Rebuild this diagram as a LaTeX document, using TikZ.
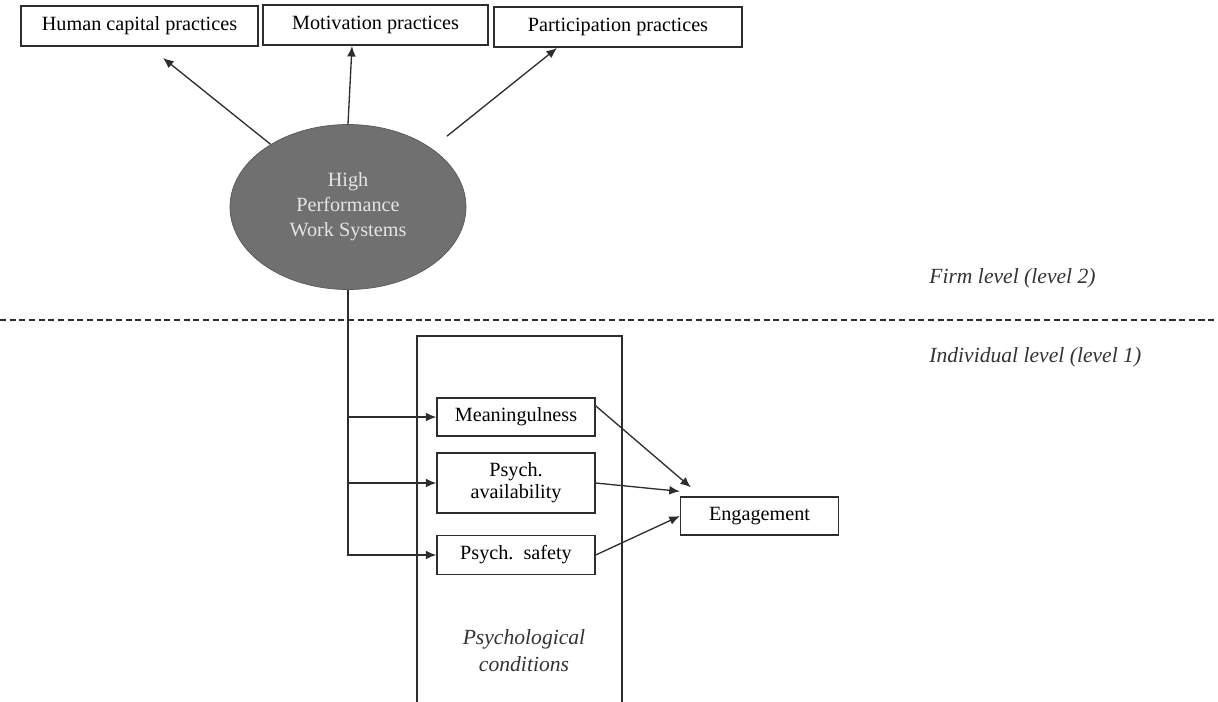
\documentclass[tikz,border=0pt]{standalone}
\usepackage{fontspec}
\setmainfont{Liberation Serif}
\usetikzlibrary{shapes.geometric,calc,arrows.meta}

\definecolor{hpwsgray}{RGB}{112,112,112}
\definecolor{linegray}{RGB}{45,45,45}

\tikzset{>={Latex[length=6pt,width=5pt]}}
\tikzset{
  practice/.style={draw=linegray, line width=0.75pt, minimum height=0.8cm, inner sep=0pt},
  cond/.style={draw=linegray, line width=0.75pt, minimum width=3.16cm, inner sep=0pt, align=center},
  link/.style={->, draw=linegray, line width=0.75pt},
  levellabel/.style={anchor=west, inner sep=0pt, font=\fontsize{12.3}{15.3}\selectfont\itshape, text=black!80},
}

\begin{document}
\begin{tikzpicture}[font=\fontsize{11.5}{14.2}\selectfont]
\useasboundingbox (0,0) rectangle (24.36,-14.02);

% Firm level
\node[practice, minimum width=4.74cm] (human) at (2.79,-0.52) {Human capital practices};
\node[practice, minimum width=4.5cm] (motiv) at (7.51,-0.5) {Motivation practices};
\node[practice, minimum width=4.96cm] (partic) at (12.36,-0.54) {Participation practices};

\node[ellipse, fill=hpwsgray, draw=hpwsgray!80!black, minimum width=4.72cm,
  minimum height=3.3cm, inner sep=0pt, text=white!90!black, align=center]
  (hpws) at (6.96,-4.14) {High\\Performance\\Work Systems};

\coordinate (humanend) at (3.26,-1.16);
\coordinate (motivend) at (7.04,-0.92);
\coordinate (particend) at (11.14,-0.96);

\draw[link] (hpws.141) -- (humanend);
\draw[link] (hpws.north) -- (motivend);
\draw[link, shorten <=0.39cm] (hpws.35) -- (particend);

\node[levellabel] (firm) at (18.58,-5.56) {Firm level (level 2)};

% level separator
\draw[draw=linegray, dash pattern=on 3.5pt off 2pt, line width=0.75pt] (0,-6.4) -- (24.36,-6.4);

% Individual level
\node[levellabel] (indiv) at (18.58,-7.14) {Individual level (level 1)};

\draw[draw=linegray, line width=0.75pt] (8.34,-14.1) |- (12.44,-6.72) -- (12.44,-14.1);
\node[levellabel, anchor=center, align=center] (condlabel) at (10.48,-13.02) {Psychological\\conditions};

\node[cond, minimum height=0.76cm] (mean) at (10.32,-8.34) {Meaningulness};
\node[cond, minimum height=1.2cm, font=\fontsize{11.5}{12.5}\selectfont] (avail) at (10.32,-9.66) {Psych.\\availability};
\node[cond, minimum height=0.78cm] (safe) at (10.32,-11.1) {Psych.\ \ safety};
\node[cond, minimum height=0.76cm] (eng) at (15.19,-10.32) {Engagement};

\draw[link] (hpws.south) |- (safe.west);
\draw[link] (hpws.south |- mean.west) -- (mean.west);
\draw[link] (hpws.south |- avail.west) -- (avail.west);

\draw[link] (mean.8) -- ($(eng.north west)+(0.22,0.18)$);
\draw[link] (avail.east) -- ($(eng.north west)+(0,0.1)$);
\draw[link] (safe.east) -- (eng.west);

\end{tikzpicture}
\end{document}
